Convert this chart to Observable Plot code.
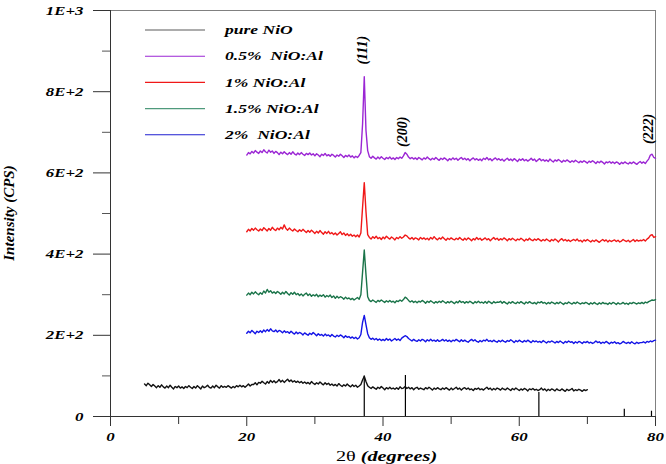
<!DOCTYPE html>
<html>
<head>
<meta charset="utf-8">
<script src="https://cdn.jsdelivr.net/npm/d3@7"></script>
<script src="https://cdn.jsdelivr.net/npm/@observablehq/plot@0.6"></script>
<style>
  html, body { margin: 0; padding: 0; background: #fff; }
  #chart { width: 666px; height: 464px; overflow: hidden; }
</style>
</head>
<body>
<div id="chart"></div>
<script>
// XRD scans of pure and Al-doped NiO films (counts per second vs 2θ)
const STEP = 0.25;                       // scan step, degrees 2θ
const xDomain = [0, 80];
const yDomain = [0, 1000];
const xMajor = [0, 20, 40, 60, 80];
const xMinor = [10, 30, 50, 70];
const yMajor = [0, 200, 400, 600, 800, 1000];
const yMinor = [100, 300, 500, 700, 900];

const seriesNames  = ["pure NiO", "0.5%  NiO:Al", "1% NiO:Al", "1.5% NiO:Al", "2%  NiO:Al"];
const seriesColors = ["#111111", "#9b26d4", "#f01818", "#1a7449", "#1414e6"];
const legendColors = ["#5a5a5a", "#9b26d4", "#f01818", "#4f9a7c", "#1f1fd0"];
const scanStart    = [5, 20, 20, 20, 20];

const pureNiO = [
  80,76,82,78, 74,79,75,71, 76,72,78,73, 70,75,71,77,
  72,68,74,71, 75,70,73,69, 74,71,76,72, 69,74,70,76,
  72,68,75,71, 73,77,72,70, 75,71,77,73, 70,76,72,74,
  72,76,73,70, 74,71,76,73, 77,73,76,72, 76,80,75,79,
  79,83,78,84, 82,87,83,80, 86,82,89,84, 88,83,86,91,
  85,89,84,88, 92,86,90,85, 88,84,87,83, 86,82,85,81,
  84,80,86,82, 79,83,80,85, 81,78,83,79, 82,77,80,76,
  79,75,81,77, 74,78,75,80, 76,73,78,74, 77,72,75,79,
  90,99,86,76, 72,69,73,70, 67,72,69,74, 70,66,71,68,
  72,68,70,67, 71,67,73,69, 70,74,69,72, 68,71,66,70,
  72,67,70,68, 66,71,68,72, 69,65,70,67, 71,68,66,70,
  67,71,68,65, 70,66,69,72, 67,70,65,69, 71,67,70,66,
  68,64,69,67, 70,66,68,65, 69,72,67,70, 65,69,66,70,
  68,65,70,67, 66,70,67,64, 69,66,70,67, 64,68,65,69,
  67,63,68,66, 69,65,67,64, 66,70,65,68, 63,67,64,68,
  66,63,68,65, 64,68,65,62, 67,64,66,69, 63,66,64,67,
  65,62,66,64, 66
];

const al05 = [
  644,650,647,653, 649,655,651,648, 654,650,657,652, 649,656,651,654,
  648,653,650,645, 651,647,652,648, 645,650,646,652, 647,644,649,645,
  650,646,643,648, 645,649,644,647, 642,647,644,640, 646,643,648,642,
  645,641,646,643, 639,644,641,646, 642,638,643,640, 644,639,642,637,
  641,638,643,650, 720,837,705,655, 640,636,641,637, 634,639,635,640,
  636,633,638,635, 639,634,637,633, 638,635,639,636, 642,650,646,639,
  635,638,634,637, 633,638,635,632, 637,634,639,635, 632,636,633,638,
  634,631,636,633, 637,634,630,635, 632,637,633,636, 631,635,638,633,
  636,632,635,630, 634,637,632,635, 631,634,630,636, 633,638,632,635,
  630,634,637,632, 635,631,634,629, 633,636,631,634, 630,635,632,628,
  634,631,635,630, 633,629,632,636, 631,634,628,632, 635,630,633,629,
  632,628,634,630, 627,632,629,633, 630,626,631,628, 632,629,626,630,
  627,631,628,625, 629,626,630,627, 624,629,626,630, 627,623,628,625,
  629,626,622,627, 625,628,624,627, 623,627,625,621, 626,623,627,624,
  622,626,623,627, 624,621,625,628, 624,627,623,629, 634,644,646,638,
  636
];

const al1 = [
  455,461,457,463, 459,464,460,457, 462,458,465,461, 457,463,459,466,
  461,458,464,460, 466,462,472,463, 459,464,460,457, 462,458,455,460,
  456,461,457,453, 458,454,459,455, 451,456,452,458, 453,449,455,451,
  456,450,453,448, 452,447,451,455, 448,452,446,450, 445,449,444,447,
  443,447,442,452, 515,576,505,448, 441,437,443,439, 444,438,441,436,
  442,438,444,440, 437,442,439,435, 441,438,443,439, 442,447,445,440,
  437,441,436,440, 438,435,441,437, 440,436,439,435, 441,437,443,438,
  435,440,437,442, 438,434,439,436, 440,437,435,439, 436,441,437,434,
  439,435,440,437, 433,438,435,441, 436,439,434,437, 440,435,438,433,
  437,441,436,439, 434,438,435,440, 437,433,438,435, 439,436,433,437,
  435,439,436,432, 437,434,439,435, 433,437,434,438, 435,432,436,433,
  437,434,431,436, 433,437,434,430, 435,438,433,436, 432,435,431,434,
  436,433,437,432, 434,430,435,432, 436,433,430,434, 431,435,432,429,
  433,436,432,435, 430,434,431,433, 435,431,434,430, 432,436,433,431,
  434,430,433,436, 431,435,432,434, 433,436,432,437, 440,446,448,441,
  443
];

const al15 = [
  299,304,300,306, 302,307,303,300, 305,301,309,304, 313,306,310,304,
  307,303,308,305, 301,306,302,308, 303,299,305,301, 306,300,303,298,
  302,297,301,304, 298,302,296,300, 297,301,295,299, 296,300,294,298,
  295,299,293,297, 291,296,292,295, 293,289,294,290, 292,288,291,287,
  290,293,289,300, 355,410,350,295, 286,283,287,284, 281,286,283,287,
  284,281,285,282, 286,282,284,280, 285,283,287,284, 288,294,291,286,
  282,285,281,284, 280,284,282,286, 283,279,284,281, 285,282,279,283,
  280,284,281,285, 282,279,283,280, 284,281,278,283, 280,285,281,283,
  279,283,280,284, 281,278,283,280, 284,280,282,279, 283,279,284,281,
  278,283,280,282, 281,284,279,283, 280,277,282,279, 283,280,278,282,
  279,283,280,277, 282,279,283,280, 278,281,277,282, 280,283,279,281,
  277,281,278,282, 280,277,281,278, 282,279,276,280, 278,282,279,277,
  281,278,282,279, 277,280,278,281, 279,276,280,277, 281,278,276,280,
  277,281,278,279, 276,280,277,281, 279,276,280,277, 278,281,277,279,
  276,280,278,281, 279,277,280,278, 281,278,282,280, 283,285,287,286,
  288
];

const al2 = [
  205,210,206,212, 208,204,210,207, 211,207,213,209, 214,210,216,211,
  209,213,208,212, 210,206,211,207, 209,205,210,206, 203,208,204,207,
  205,201,206,203, 200,205,202,207, 203,199,204,200, 202,198,203,199,
  201,197,202,198, 196,200,197,201, 198,194,199,195, 197,193,196,192,
  195,191,194,202, 232,249,226,204, 194,190,193,189, 192,188,191,187,
  190,187,192,188, 191,186,189,192, 188,191,187,193, 196,199,197,192,
  189,186,190,187, 185,189,186,190, 188,184,189,186, 190,186,188,185,
  189,185,187,190, 186,189,185,188, 184,188,186,190, 187,184,189,185,
  188,185,183,187, 190,186,189,185, 183,187,184,188, 186,190,185,187,
  184,188,185,183, 187,184,188,185, 183,187,185,189, 186,182,187,184,
  188,185,183,187, 184,188,185,182, 187,184,186,183, 185,182,187,184,
  181,185,183,186, 184,181,185,182, 186,183,180,185, 182,186,183,184,
  180,184,181,185, 183,180,184,182, 185,181,183,180, 182,186,182,184,
  180,183,181,185, 182,179,183,181, 184,180,182,179, 181,185,182,180,
  183,180,184,181, 179,183,180,182, 182,184,181,185, 183,186,184,187,
  188
];

// Reference pattern for cubic NiO: peak positions and relative heights
const refAngle  = [37.25, 43.29, 62.88, 75.42, 79.41];
const refHeight = [100, 101, 59, 18, 13];

// Miller-index labels above the film peaks
const hklText   = ["(111)", "(200)", "(222)"];
const hklAngle  = [37.0, 42.9, 79.0];
const hklLevel  = [901, 700, 707];

const scans = [pureNiO, al05, al1, al15, al2];
const rows = [];
scans.forEach((vals, s) => vals.forEach((v, i) =>
  rows.push({series: seriesNames[s], angle: scanStart[s] + i * STEP, counts: v})));
const sticks = refAngle.map((a, i) => ({angle: a, h: refHeight[i]}));
const hkl = hklText.map((t, i) => ({label: t, angle: hklAngle[i], level: hklLevel[i]}));

const sci = d => d === 0 ? "0" : d3.format(".0e")(d).toUpperCase();

const chart = Plot.plot({
  width: 666,
  height: 464,
  marginTop: 10,
  marginRight: 11,
  marginBottom: 48,
  marginLeft: 110,
  style: {
    fontFamily: "'Liberation Serif', 'Times New Roman', serif",
    fontWeight: "bold",
    fontStyle: "italic",
    background: "#fff",
    overflow: "visible"
  },
  x: {domain: xDomain},
  y: {domain: yDomain},
  color: {domain: seriesNames, range: seriesColors},
  marks: [
    Plot.ruleY([yDomain[1]], {stroke: "#808080"}),
    Plot.ruleX([xDomain[1]], {stroke: "#808080"}),
    Plot.axisY({ticks: yMajor, tickSize: 17, tickPadding: 10, tickFormat: sci, label: null, fontSize: 12.5, stroke: "#333"}),
    Plot.axisY({ticks: yMinor, tickSize: 8, tickFormat: () => "", label: null, stroke: "#555"}),
    Plot.axisX({ticks: xMajor, tickSize: 10, tickPadding: 6, tickFormat: d => String(d), label: null, fontSize: 12.5, stroke: "#333"}),
    Plot.axisX({ticks: xMinor, tickSize: 8, tickFormat: () => "", label: null, stroke: "#333"}),
    Plot.ruleX([xDomain[0]], {stroke: "#333"}),
    Plot.ruleY([yDomain[0]], {stroke: "#333"}),
    Plot.ruleX(sticks, {x: "angle", y1: 0, y2: "h", stroke: "#000", strokeWidth: 1.2}),
    Plot.line(rows, {x: "angle", y: "counts", z: "series", stroke: "series", strokeWidth: 1.4})
  ]
});

const WIDEN = 1.35;
// horizontal labels in this figure use a wide face: stretch them about their anchor
chart.querySelectorAll("text").forEach(t => {
  const tr = t.getAttribute("transform") || "";
  const m = tr.match(/^translate\(([^)]*)\)(.*)$/);
  if (m) {
    t.setAttribute("transform", `translate(${m[1]}) scale(${WIDEN},1)${m[2]}`);
  } else {
    const x = +(t.getAttribute("x") || 0), y = +(t.getAttribute("y") || 0);
    t.setAttribute("transform", `translate(${x},${y}) scale(${WIDEN},1) translate(${-x},${-y})`);
  }
});

const svg = d3.select(chart);
const sx = chart.scale("x"), sy = chart.scale("y");

// Miller indices, placed with the plot's own scales
hkl.forEach(d => {
  svg.append("text")
    .attr("transform", `translate(${sx.apply(d.angle)},${sy.apply(d.level)}) rotate(-90)`)
    .attr("text-anchor", "middle").attr("dy", "0.32em")
    .attr("font-size", 14).attr("fill", "#000")
    .text(d.label);
});

// legend
const lg = svg.append("g");
seriesNames.forEach((name, i) => {
  const y = 30 + i * 26.2;
  lg.append("line").attr("x1", 145).attr("x2", 205).attr("y1", y).attr("y2", y)
    .attr("stroke", legendColors[i]).attr("stroke-width", 1.1);
  lg.append("text").attr("transform", `translate(225,${y}) scale(${WIDEN},1)`)
    .attr("text-anchor", "start")
    .attr("dy", "0.32em").attr("font-size", 13).style("white-space", "pre")
    .attr("fill", "#000").text(name);
});

// axis titles
const midX = (sx.apply(xDomain[0]) + sx.apply(xDomain[1])) / 2;
const midY = (sy.apply(yDomain[0]) + sy.apply(yDomain[1])) / 2;
svg.append("text")
  .attr("transform", `translate(9,${midY}) rotate(-90)`)
  .attr("text-anchor", "middle").attr("dy", "0.32em")
  .attr("font-size", 15).attr("fill", "#000")
  .text("Intensity (CPS)");
const xt = svg.append("text")
  .attr("transform", `translate(${midX + 4},461) scale(${WIDEN},1)`)
  .attr("text-anchor", "middle").attr("font-size", 15).attr("fill", "#000")
  .style("white-space", "pre");
xt.append("tspan").style("font-weight", "normal").style("font-style", "normal").text("2θ ");
xt.append("tspan").text("(degrees)");

document.getElementById("chart").append(chart);
</script>
</body>
</html>
